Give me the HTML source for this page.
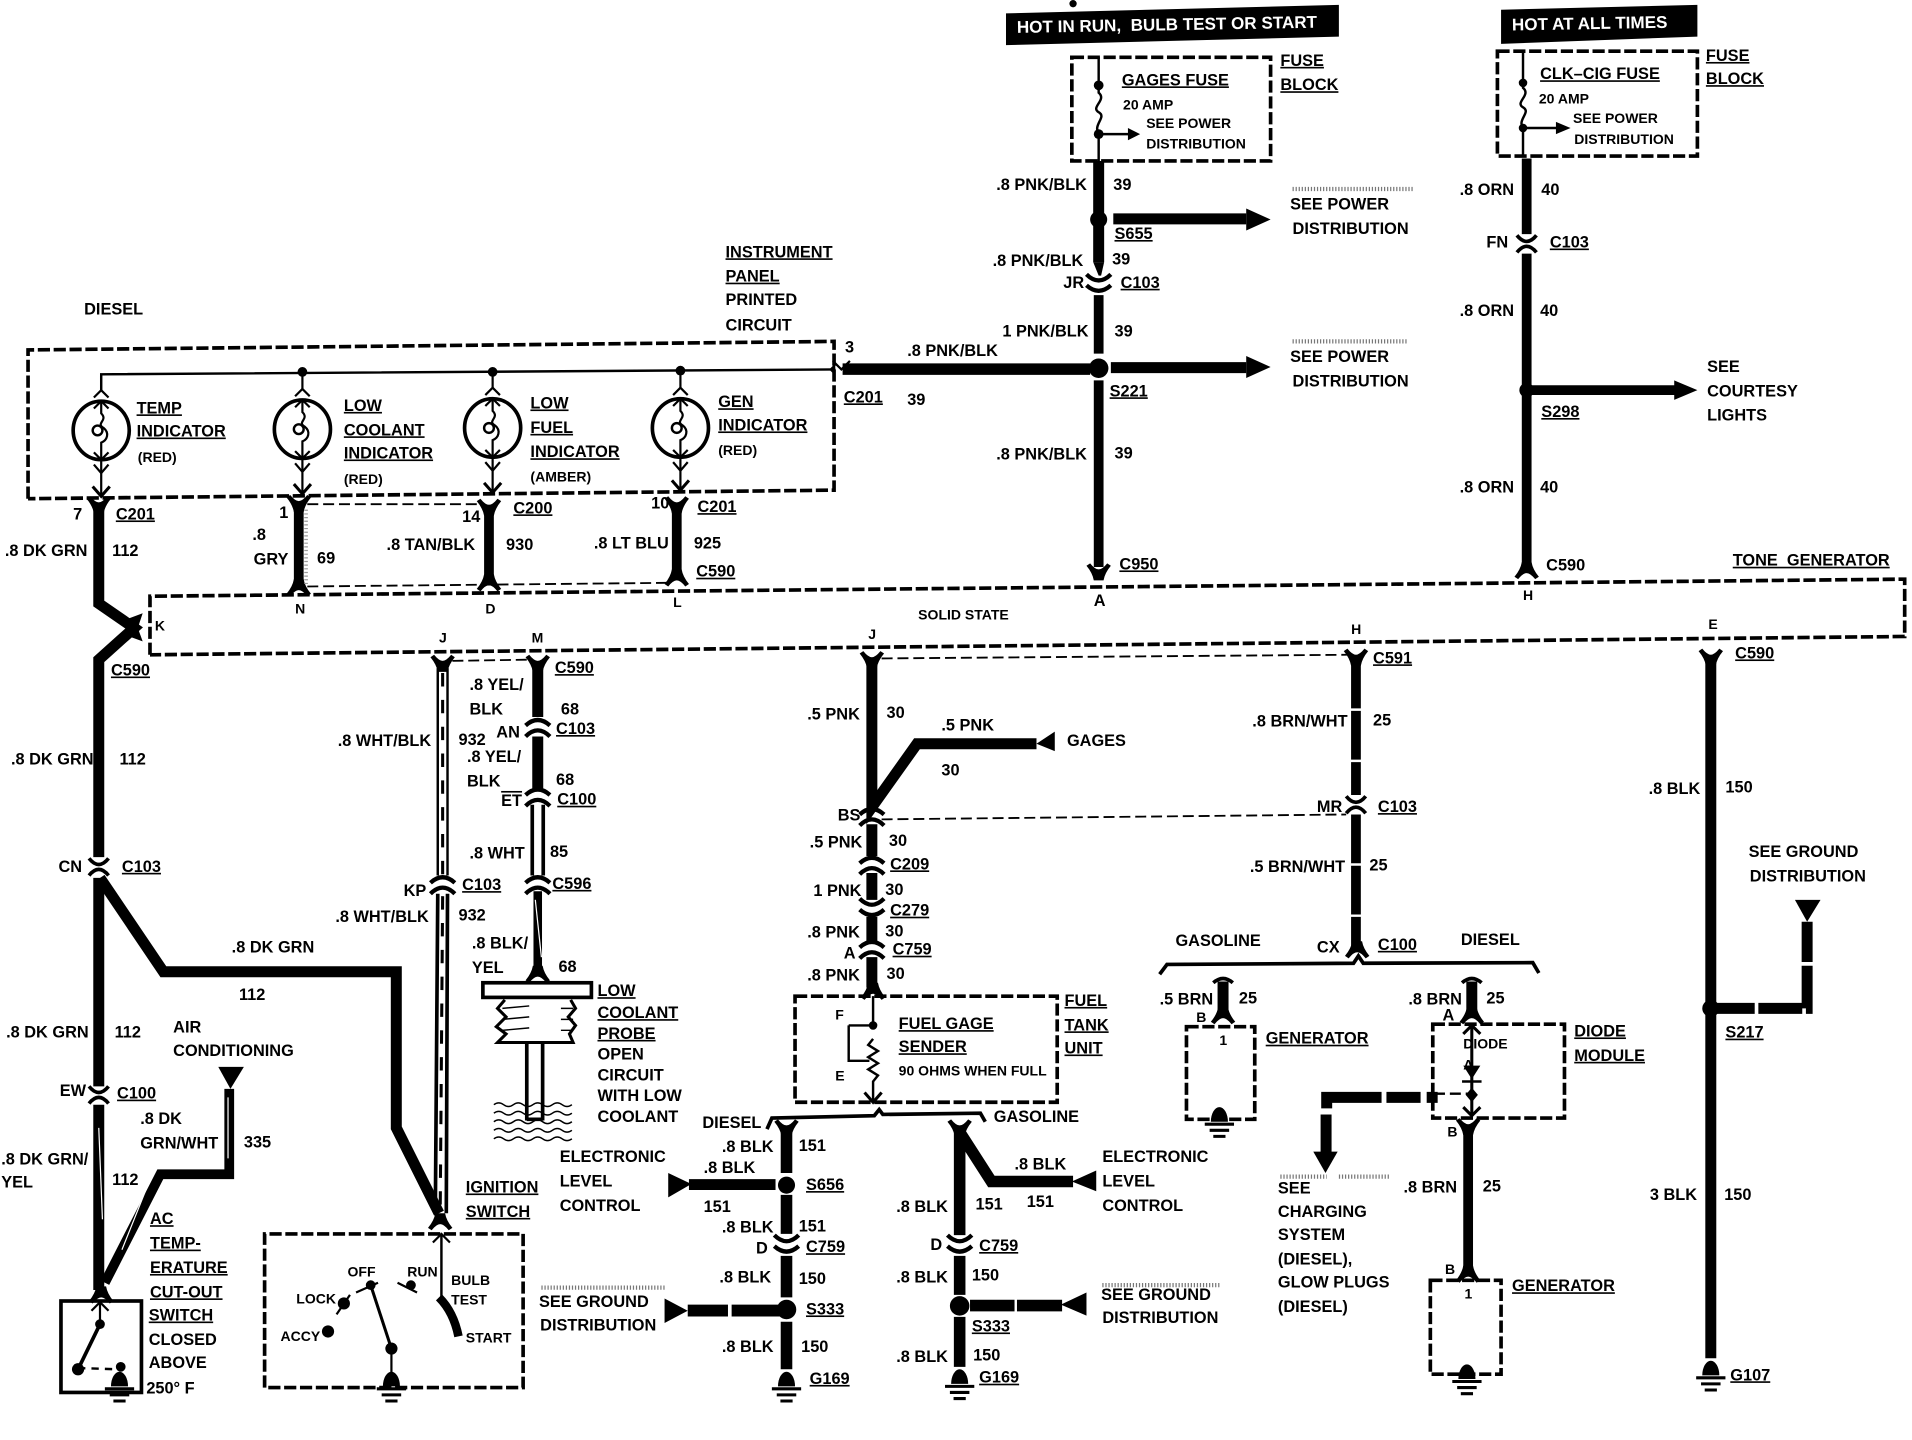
<!DOCTYPE html>
<html><head><meta charset="utf-8"><title>Wiring diagram</title>
<style>
html,body{margin:0;padding:0;background:#fff;width:1912px;height:1440px;overflow:hidden}
svg{display:block}
text{font-family:"Liberation Sans",sans-serif;font-size:13.4px;font-weight:bold;fill:#000}
.u{text-decoration:underline}
.s{font-size:11.5px}
.w{fill:none;stroke:#000;stroke-width:9;stroke-linejoin:miter}
.m{fill:none;stroke:#000;stroke-width:8}
.l{fill:none;stroke:#000;stroke-width:1.8}
.d{fill:none;stroke:#000;stroke-width:3;stroke-dasharray:10 3}
.dt{fill:none;stroke:#000;stroke-width:1.5;stroke-dasharray:9 4}
.k{fill:none;stroke:#000;stroke-width:3}
.g{fill:none;stroke:#999;stroke-width:1.5;stroke-dasharray:1 2}
.st{fill:none;stroke:#777;stroke-width:3.5;stroke-dasharray:1 1.5}
.sl{fill:none;stroke:#fff;stroke-width:1}
</style></head><body>
<svg width="1912" height="1440" viewBox="0 0 1568 1181" preserveAspectRatio="none" xmlns="http://www.w3.org/2000/svg">
<defs>
<path id="y" d="M-10,-5L-7,-7Q-3,-2 0,-2Q3,-2 7,-7L10,-5Q5,1 4,7H-4Q-5,1 -10,-5Z"/>
<path id="n" d="M-10,5L-7,7Q-3,2 0,2Q3,2 7,7L10,5Q5,-1 4,-7H-4Q-5,-1 -10,5Z"/>
<g id="c"><path class="k" d="M-8,-7Q0,3 8,-7M-8,7Q0,-3 8,7"/></g>
<g id="ca"><path class="k" style="stroke-width:3.5" d="M-10,-1Q0,-10 10,-1M-10,8Q0,-2 10,8"/></g>
<g id="cb"><path class="k" style="stroke-width:3.5" d="M-10,-8Q0,2 10,-8M-10,1Q0,10 10,1"/></g>
<g id="gnd"><path d="M-7,12A7,12 0 0 1 7,12Z"/><path class="k" style="stroke-width:2.5" d="M-12,14H12M-8,19H8M-5,24H5"/></g>
<g id="a"><path class="l" d="M-7,7L0,0L7,7"/></g>
<g id="b"><path class="l" d="M-7,-7L0,0L7,-7"/></g>
<g id="lamp"><ellipse cx="0" cy="0" rx="23" ry="24" fill="none" stroke="#000" stroke-width="3"/><path class="l" d="M0,-24V-14C6,-8 -5,-6 2,-2C7,2 5,8 0,10V24"/><circle cx="-3" cy="0" r="4" fill="none" stroke="#000" stroke-width="2"/><path class="l" d="M-6,-18L0,-24L6,-18M-6,18L0,24L6,18M-6,-27L0,-33L6,-27M-6,28L0,35L6,28"/></g>
</defs>
<rect width="1568" height="1181" fill="#fff"/>
<circle cx="880" cy="3" r="3"/>

<!-- header boxes -->
<path d="M825,11L1098,4V30L825,37Z"/>
<text x="834" y="27" style="fill:#fff;font-size:14px" transform="rotate(-1 834 27)">HOT IN RUN,&#160;&#160;BULB TEST OR START</text>
<path d="M1231,8L1392,4V30L1231,36Z"/>
<text x="1240" y="25" style="fill:#fff;font-size:14px" transform="rotate(-1 1240 25)">HOT AT ALL TIMES</text>

<!-- gages fuse -->
<rect class="d" x="879" y="47" width="163" height="85"/>
<path class="l" style="stroke-width:2" d="M901,47V76C908,82 894,88 901,92C908,96 896,102 901,110V132M901,110H926"/>
<path d="M935,110L925,105V115Z"/><circle cx="901" cy="70" r="4"/><circle cx="901" cy="110" r="4"/>
<text x="920" y="70" class="u">GAGES FUSE</text><text x="921" y="90" class="s">20 AMP</text>
<text x="940" y="105" class="s">SEE POWER</text><text x="940" y="122" class="s">DISTRIBUTION</text>
<text x="1050" y="54" class="u">FUSE</text><text x="1050" y="74" class="u">BLOCK</text>
<path class="w" d="M901,132V215"/><path d="M896.5,215H905.5L903,226H901Z"/>
<path class="w" style="stroke-width:8" d="M901,242V290M901,312V465"/>
<use href="#cb" x="901" y="233"/><use href="#y" x="901" y="469" transform="translate(0,0)"/>
<circle cx="901" cy="180" r="7"/><circle cx="901" cy="302" r="8"/>
<path d="M913,175H1022V184H913ZM911,297H1022V306H911ZM691,298H894V307.5H691Z"/>
<path d="M1042,180L1022,171V189ZM1042,301L1022,292V310Z"/>
<use href="#b" x="690" y="303"/>
<text x="817" y="156">.8 PNK/BLK</text><text x="913" y="156">39</text>
<text x="914" y="196" class="u">S655</text>
<path class="st" d="M1060,155H1160M1060,280H1155"/>
<text x="1058" y="172">SEE POWER</text><text x="1060" y="192">DISTRIBUTION</text>
<text x="814" y="218">.8 PNK/BLK</text><text x="912" y="217">39</text>
<text x="872" y="236">JR</text><text x="919" y="236" class="u">C103</text>
<text x="822" y="276">1 PNK/BLK</text><text x="914" y="276">39</text>
<text x="1058" y="297">SEE POWER</text><text x="1060" y="317">DISTRIBUTION</text>
<text x="910" y="325" class="u">S221</text>
<text x="817" y="377">.8 PNK/BLK</text><text x="914" y="376">39</text>
<text x="918" y="467" class="u">C950</text><text x="897" y="497">A</text>
<text x="693" y="289">3</text><text x="744" y="292">.8 PNK/BLK</text>
<text x="692" y="330" class="u">C201</text><text x="744" y="332">39</text>

<!-- clk fuse -->
<rect class="d" x="1228" y="42" width="164" height="86"/>
<path class="l" style="stroke-width:2" d="M1249,42V72C1256,78 1242,84 1249,88C1256,92 1244,98 1249,105V128M1249,105H1278"/>
<path d="M1288,105L1276,100V110Z"/><circle cx="1249" cy="68" r="3.5"/><circle cx="1249" cy="105" r="3.5"/>
<text x="1263" y="65" class="u">CLK–CIG FUSE</text><text x="1262" y="85" class="s">20 AMP</text>
<text x="1290" y="101" class="s">SEE POWER</text><text x="1291" y="118" class="s">DISTRIBUTION</text>
<text x="1399" y="50" class="u">FUSE</text><text x="1399" y="69" class="u">BLOCK</text>
<path class="m" d="M1252,130V192M1252,208V465"/>
<use href="#c" x="1252" y="200"/><use href="#n" x="1252" y="468"/>
<circle cx="1252" cy="320" r="6"/>
<path d="M1252,316H1375V324H1252Z"/><path d="M1392,320L1373,312V328Z"/>
<text x="1197" y="160">.8 ORN</text><text x="1264" y="160">40</text>
<text x="1219" y="203">FN</text><text x="1271" y="203" class="u">C103</text>
<text x="1197" y="259">.8 ORN</text><text x="1263" y="259">40</text>
<text x="1400" y="305">SEE</text><text x="1400" y="325">COURTESY</text><text x="1400" y="345">LIGHTS</text>
<text x="1264" y="342" class="u">S298</text>
<text x="1197" y="404">.8 ORN</text><text x="1263" y="404">40</text>
<text x="1268" y="468">C590</text><text x="1249" y="492" class="s">H</text>

<!-- instrument panel -->
<path class="d" d="M23,409V287L684,280V402L23,409"/>
<text x="595" y="211" class="u">INSTRUMENT</text><text x="595" y="231" class="u">PANEL</text>
<text x="595" y="250">PRINTED</text><text x="595" y="271">CIRCUIT</text>
<text x="69" y="258">DIESEL</text>
<path class="l" style="stroke-width:2" d="M83,320V307L685,303"/>
<path d="M685,298L680,303L685,308Z"/>
<circle cx="248" cy="305" r="4"/><circle cx="404" cy="305" r="4"/><circle cx="558" cy="304" r="4"/>
<use href="#lamp" x="83" y="353"/><use href="#lamp" x="248" y="352"/><use href="#lamp" x="404" y="351"/><use href="#lamp" x="558" y="351"/>
<path class="l" d="M83,377V407M248,376V405M404,375V404M558,375V402M248,305V319M404,305V318M558,304V318"/>
<path class="l" style="stroke-width:2.5" d="M76,399L83,407L90,399M241,397L248,405L255,397M397,396L404,404L411,396M551,394L558,402L565,394"/>
<text x="112" y="339" class="u">TEMP</text><text x="112" y="358" class="u">INDICATOR</text><text x="113" y="379" class="s">(RED)</text>
<text x="282" y="337" class="u">LOW</text><text x="282" y="357" class="u">COOLANT</text><text x="282" y="376" class="u">INDICATOR</text><text x="282" y="397" class="s">(RED)</text>
<text x="435" y="335" class="u">LOW</text><text x="435" y="355" class="u">FUEL</text><text x="435" y="375" class="u">INDICATOR</text><text x="435" y="395" class="s">(AMBER)</text>
<text x="589" y="334" class="u">GEN</text><text x="589" y="353" class="u">INDICATOR</text><text x="589" y="373" class="s">(RED)</text>

<!-- tone generator -->
<path class="d" d="M123,537V489L1562,475V522L123,537"/>
<text x="1421" y="464" class="u">TONE&#160;&#160;GENERATOR</text>
<text x="753" y="508" class="s">SOLID STATE</text>
<text x="242" y="503" class="s">N</text><text x="398" y="503" class="s">D</text><text x="552" y="498" class="s">L</text><text x="127" y="517" class="s">K</text><text x="360" y="527" class="s">J</text><text x="436" y="527" class="s">M</text><text x="712" y="524" class="s">J</text><text x="1108" y="520" class="s">H</text><text x="1401" y="516" class="s">E</text>

<!-- drops between panel and tone -->
<path class="m" d="M245,418V478M401,420V473M555,418V468"/>
<use href="#n" x="245" y="482"/><use href="#y" x="245" y="413"/><use href="#y" x="401" y="416"/><use href="#n" x="401" y="478"/><use href="#y" x="555" y="414"/><use href="#n" x="555" y="474"/>
<path class="dt" d="M252,413.5H394M252,481L548,478"/>
<path class="g" style="stroke-width:3" d="M251,418V480"/>
<text x="229" y="425">1</text><text x="207" y="443">.8</text><text x="208" y="463">GRY</text><text x="260" y="462">69</text>
<text x="379" y="428">14</text><text x="421" y="421" class="u">C200</text><text x="317" y="451">.8 TAN/BLK</text><text x="415" y="451">930</text>
<text x="534" y="417">10</text><text x="572" y="420" class="u">C201</text><text x="487" y="450">.8 LT BLU</text><text x="569" y="450">925</text><text x="571" y="473" class="u">C590</text>

<!-- left wire -->
<use href="#y" x="81" y="414"/>
<path class="w" d="M81,417V495L110,515L81,541V703M81,720V891M81,906V1058"/>
<path d="M106,507L117,503L113,515L117,526L106,522Z"/>
<use href="#c" x="81" y="711"/><use href="#c" x="81" y="898"/><use href="#n" x="83" y="1062"/>
<path class="w" d="M82,720L134,797H325V925L360,995"/>
<path class="m" d="M86,1052L131.500,963H188V893"/><path d="M189,893L179,875H200Z"/>
<path class="sl" d="M81,925L84,1000M120,975L100,1025M187,900V950"/>
<text x="60" y="426">7</text><text x="95" y="426" class="u">C201</text><text x="4" y="456">.8 DK GRN</text><text x="92" y="456">112</text>
<text x="91" y="554" class="u">C590</text><text x="9" y="627">.8 DK GRN</text><text x="98" y="627">112</text>
<text x="48" y="715">CN</text><text x="100" y="715" class="u">C103</text>
<text x="190" y="781">.8 DK GRN</text><text x="196" y="820">112</text>
<text x="5" y="851">.8 DK GRN</text><text x="94" y="851">112</text>
<text x="49" y="899">EW</text><text x="96" y="901" class="u">C100</text>
<text x="142" y="847">AIR</text><text x="142" y="866">CONDITIONING</text>
<text x="115" y="922">.8 DK</text><text x="115" y="942">GRN/WHT</text><text x="200" y="941">335</text>
<text x="1" y="955">.8 DK GRN/</text><text x="1" y="974">YEL</text><text x="92" y="972">112</text>
<text x="123" y="1004" class="u">AC</text><text x="123" y="1024" class="u">TEMP-</text><text x="123" y="1044" class="u">ERATURE</text><text x="123" y="1064" class="u">CUT-OUT</text><text x="122" y="1083" class="u">SWITCH</text>
<text x="122" y="1103">CLOSED</text><text x="122" y="1122">ABOVE</text><text x="120" y="1143">250° F</text>

<!-- AC switch -->
<rect x="50" y="1067" width="66" height="75" fill="none" stroke="#000" stroke-width="3"/>
<use href="#a" x="82" y="1068"/><path class="l" d="M82,1068V1083"/>
<circle cx="82" cy="1086" r="4"/><circle cx="64" cy="1123" r="5"/><circle cx="99" cy="1121" r="4"/>
<path class="k" d="M82,1086L64,1123"/><path class="l" style="stroke-width:2;stroke-dasharray:6 5" d="M64,1122L97,1123"/>
<use href="#gnd" x="98" y="1125"/>

<!-- J wire -->
<path class="l" style="stroke-width:2" d="M359,548V718M367,548V718"/>
<path class="l" style="stroke-width:3" d="M359,733L357,995M367,733L366,995"/>
<path class="l" style="stroke-width:2.500;stroke-dasharray:11 11" d="M363,552V718M363,735L361,995"/>
<use href="#y" x="363" y="544"/><use href="#ca" x="363" y="725"/><use href="#n" x="361" y="1002"/>
<path class="dt" d="M371,542L436,541"/>
<text x="277" y="612">.8 WHT/BLK</text><text x="376" y="611">932</text>
<text x="331" y="735">KP</text><text x="379" y="730" class="u">C103</text>
<text x="275" y="756">.8 WHT/BLK</text><text x="376" y="755">932</text>

<!-- ignition -->
<path class="d" d="M217,1138V1012H429V1138H217"/>
<use href="#a" x="362" y="1012"/><path class="l" d="M362,1012V1066" style="stroke-width:2"/>
<path class="m" style="stroke-width:7" d="M360,1064Q372,1076 376,1096"/>
<circle cx="304" cy="1054" r="4"/><circle cx="337" cy="1054" r="4"/><circle cx="282" cy="1069" r="5"/><circle cx="269" cy="1092" r="5"/><circle cx="321" cy="1106" r="5"/>
<path class="k" d="M304,1054L321,1106" style="stroke-width:2.5"/><path class="l" d="M321,1106V1130"/>
<path class="l" d="M292,1060L310,1052M326,1052L342,1060M276,1078L287,1062"/>
<use href="#gnd" x="321" y="1125"/>
<text x="285" y="1047" class="s">OFF</text><text x="334" y="1047" class="s">RUN</text><text x="243" y="1069" class="s">LOCK</text><text x="230" y="1100" class="s">ACCY</text>
<text x="370" y="1054" class="s">BULB</text><text x="370" y="1070" class="s">TEST</text><text x="382" y="1101" class="s">START</text>
<text x="382" y="978" class="u">IGNITION</text><text x="382" y="998" class="u">SWITCH</text>

<!-- M wire -->
<path class="w" d="M441,546V588M441,604V648"/>
<path class="m" style="stroke-width:7" d="M441,731V797"/>
<path class="sl" d="M439,738L444,785"/>
<path class="l" style="stroke-width:3" d="M436.500,660V718M445.500,660V718"/>
<use href="#y" x="441" y="544"/><use href="#ca" x="441" y="596"/><use href="#ca" x="441" y="653"/><use href="#ca" x="441" y="725"/><use href="#n" x="441" y="799"/>
<text x="385" y="566">.8 YEL/</text><text x="385" y="586">BLK</text><text x="460" y="586">68</text>
<text x="455" y="552" class="u">C590</text><text x="407" y="605">AN</text><text x="456" y="602" class="u">C103</text>
<text x="383" y="625">.8 YEL/</text><text x="383" y="645">BLK</text><text x="456" y="644">68</text>
<text x="411" y="661" style="text-decoration:overline">ET</text><text x="457" y="660" class="u">C100</text>
<text x="385" y="704">.8 WHT</text><text x="451" y="703">85</text><text x="453" y="729" class="u">C596</text>
<text x="387" y="778">.8 BLK/</text><text x="387" y="798">YEL</text><text x="458" y="797">68</text>

<!-- probe -->
<rect x="396" y="806" width="89" height="12" fill="none" stroke="#000" stroke-width="3"/>
<path class="k" style="stroke-width:2.5" d="M414,820L408,827L415,834L407,842L415,848L408,855H470L467,848L472,841L466,834L472,827L468,820"/>
<path class="l" style="stroke-width:1.2" d="M412,827L434,825M412,836L434,834M412,845L434,843M460,827H470M460,836H470M460,845H470"/>
<path class="k" d="M432,855V919M445,855V919M432,918H445"/>
<path class="l" style="stroke-width:1.2" d="M405,906q4,-3 8,0t8,0t8,0t8,0t8,0t8,0t8,0t8,0M405,913q4,-3 8,0t8,0t8,0t8,0t8,0t8,0t8,0t8,0M405,920q4,-3 8,0t8,0t8,0t8,0t8,0t8,0t8,0t8,0M405,927q4,-3 8,0t8,0t8,0t8,0t8,0t8,0t8,0t8,0M405,934q4,-3 8,0t8,0t8,0t8,0t8,0t8,0t8,0t8,0"/>
<text x="490" y="817" class="u">LOW</text><text x="490" y="835" class="u">COOLANT</text><text x="490" y="852" class="u">PROBE</text>
<text x="490" y="869">OPEN</text><text x="490" y="886">CIRCUIT</text><text x="490" y="903">WITH LOW</text><text x="490" y="920">COOLANT</text>

<!-- center J wire -->
<path class="w" d="M715,543V662L752,610H850M715,676V702M715,716V738M715,752V772M715,785V810"/>
<path d="M850,610L865,600V616Z"/>
<use href="#y" x="715" y="541"/><use href="#ca" x="715" y="669"/><use href="#ca" x="715" y="709"/><use href="#cb" x="715" y="745"/><use href="#ca" x="715" y="778"/><use href="#n" x="716" y="813"/>
<path class="dt" d="M723,540L1105,537M723,672L1104,668"/>
<text x="662" y="590">.5 PNK</text><text x="727" y="589">30</text><text x="772" y="599">.5 PNK</text><text x="772" y="636">30</text><text x="875" y="612">GAGES</text>
<text x="687" y="673">BS</text><text x="664" y="695">.5 PNK</text><text x="729" y="694">30</text><text x="730" y="713" class="u">C209</text>
<text x="667" y="735">1 PNK</text><text x="726" y="734">30</text><text x="730" y="751" class="u">C279</text>
<text x="662" y="769">.8 PNK</text><text x="726" y="768">30</text><text x="692" y="786">A</text><text x="732" y="783" class="u">C759</text>
<text x="662" y="804">.8 PNK</text><text x="727" y="803">30</text>

<!-- fuel tank -->
<rect class="d" x="652" y="817" width="215" height="87"/>
<path class="l" style="stroke-width:2" d="M716,817V841M696,841H716M696,841V870H713M716,852L712,857L720,862L712,867L720,872L712,877L720,882L716,887V903"/>
<circle cx="716" cy="841" r="3.500"/>
<path class="l" style="stroke-width:2.500" d="M709,896L716,904L723,896"/>
<text x="685" y="836" class="s">F</text><text x="685" y="886" class="s">E</text>
<text x="737" y="844" class="u">FUEL GAGE</text><text x="737" y="863" class="u">SENDER</text><text x="737" y="882" class="s">90 OHMS WHEN FULL</text>
<text x="873" y="825" class="u">FUEL</text><text x="873" y="845" class="u">TANK</text><text x="873" y="864" class="u">UNIT</text>
<path class="k" d="M629,926L633,917L717,915L721,910L724,914L804,913L808,920"/>
<text x="576" y="925">DIESEL</text><text x="815" y="920">GASOLINE</text>

<!-- left lower -->
<path class="w" style="stroke-width:9.500" d="M645,928V962M645,980V1012M645,1030V1064M645,1084V1123"/>
<use href="#y" x="645" y="925"/><use href="#cb" x="645" y="1021"/>
<circle cx="645" cy="972" r="7"/><circle cx="645" cy="1074" r="8"/>
<path d="M565,967H636V976H565ZM564,1070H597V1079.700H564ZM600,1070H640V1079.700H600Z"/><path d="M548,962L567,971L548,982ZM545,1065L564,1075L545,1085Z"/>
<use href="#gnd" x="645" y="1125"/>
<text x="592" y="945">.8 BLK</text><text x="655" y="944">151</text><text x="577" y="962">.8 BLK</text><text x="577" y="994">151</text><text x="661" y="976" class="u">S656</text>
<path class="st" d="M444,1056H545M904,1054H1000M1050,965H1088M1098,965H1140"/>
<text x="459" y="953">ELECTRONIC</text><text x="459" y="973">LEVEL</text><text x="459" y="993">CONTROL</text>
<text x="592" y="1011">.8 BLK</text><text x="655" y="1010">151</text><text x="620" y="1028">D</text><text x="661" y="1027" class="u">C759</text>
<text x="590" y="1052">.8 BLK</text><text x="655" y="1053">150</text><text x="661" y="1078" class="u">S333</text>
<text x="442" y="1072">SEE GROUND</text><text x="443" y="1091">DISTRIBUTION</text>
<text x="592" y="1109">.8 BLK</text><text x="657" y="1109">150</text><text x="664" y="1135" class="u">G169</text>

<!-- right lower -->
<path class="w" style="stroke-width:9.500" d="M787,926V1013M787,1030V1062M787,1080V1121"/>
<path class="w" style="stroke-width:9.500" d="M788,930L813,969H880"/>
<use href="#y" x="787" y="925"/><use href="#cb" x="787" y="1021"/><circle cx="787" cy="1071" r="8"/>
<path d="M795.500,1066H832V1075.500H795.500ZM834,1066H871V1075.500H834Z"/><path d="M891,1060L870,1070L891,1079ZM899,960L879,969L899,977Z"/>
<use href="#gnd" x="787" y="1123"/>
<text x="832" y="959">.8 BLK</text><text x="800" y="992">151</text><text x="842" y="990">151</text>
<text x="735" y="994">.8 BLK</text><text x="904" y="953">ELECTRONIC</text><text x="904" y="973">LEVEL</text><text x="904" y="993">CONTROL</text>
<text x="763" y="1025">D</text><text x="803" y="1026" class="u">C759</text>
<text x="735" y="1052">.8 BLK</text><text x="797" y="1050">150</text><text x="797" y="1092" class="u">S333</text>
<text x="903" y="1066">SEE GROUND</text><text x="904" y="1085">DISTRIBUTION</text>
<text x="735" y="1117">.8 BLK</text><text x="798" y="1116">150</text><text x="803" y="1134" class="u">G169</text>

<!-- H wire -->
<path class="m" style="stroke-dasharray:40 2" d="M1112,541V652M1112,668V776"/>
<use href="#y" x="1112" y="539"/><use href="#c" x="1112" y="660"/><use href="#n" x="1113" y="779"/>
<path class="k" d="M951,799L957,791L1110,790L1114,784L1118,790L1257,789.500L1262,798"/>
<text x="1126" y="544" class="u">C591</text><text x="1027" y="596">.8 BRN/WHT</text><text x="1126" y="595">25</text>
<text x="1080" y="666">MR</text><text x="1130" y="666" class="u">C103</text>
<text x="1025" y="715">.5 BRN/WHT</text><text x="1123" y="714">25</text>
<text x="1080" y="781">CX</text><text x="1130" y="779" class="u">C100</text>
<text x="964" y="776">GASOLINE</text><text x="1198" y="775">DIESEL</text>

<!-- generator left -->
<path class="m" style="stroke-width:9" d="M1003,805V832"/><path class="k" d="M995,806Q1003,799 1011,806"/><use href="#n" x="1003" y="833"/>
<rect class="d" x="973" y="842" width="56" height="76"/>
<use href="#gnd" x="1000" y="908"/>
<text x="951" y="824">.5 BRN</text><text x="1016" y="823">25</text><text x="981" y="838" class="s">B</text>
<text x="1000" y="857" class="s">1</text><text x="1038" y="856" class="u">GENERATOR</text>

<!-- diode module -->
<path class="m" style="stroke-width:9" d="M1207,805V832"/><path class="k" d="M1199,806Q1207,799 1215,806"/><use href="#n" x="1207" y="833"/>
<rect class="d" x="1175" y="840" width="108" height="77"/>
<path class="l" style="stroke-width:2.500" d="M1207,841V915"/><path class="l" style="stroke-width:2.500" d="M1200,848L1207,841L1214,848M1200,908L1207,915L1214,908"/>
<path d="M1200,874H1214L1207,885ZM1199,886H1215V888H1199Z"/>
<path d="M1207,892L1212,898L1207,904L1202,898Z"/>
<path class="dt" style="stroke-width:2" d="M1176,897H1204"/>
<path class="m" style="stroke-width:9" d="M1179,900H1170M1165,900H1137M1133,900H1088V909"/>
<path class="m" style="stroke-width:9" d="M1087.500,914V945"/><path d="M1077,944.500H1097L1087,962Z"/>
<path class="m" d="M1204,925V1042"/><use href="#y" x="1204" y="924"/><use href="#n" x="1204" y="1045"/>
<text x="1155" y="824">.8 BRN</text><text x="1219" y="823">25</text><text x="1183" y="837">A</text>
<text x="1200" y="860" class="s">DIODE</text><text x="1200" y="877" class="s">A</text>
<text x="1291" y="850" class="u">DIODE</text><text x="1291" y="870" class="u">MODULE</text>
<text x="1187" y="932" class="s">B</text><text x="1151" y="978">.8 BRN</text><text x="1216" y="977">25</text>
<text x="1048" y="979">SEE</text><text x="1048" y="998">CHARGING</text><text x="1048" y="1017">SYSTEM</text><text x="1048" y="1037">(DIESEL),</text><text x="1048" y="1056">GLOW PLUGS</text><text x="1048" y="1076">(DIESEL)</text>
<rect class="d" x="1173" y="1050" width="58" height="77"/>
<use href="#gnd" x="1203" y="1119"/>
<text x="1185" y="1045" class="s">B</text><text x="1201" y="1065" class="s">1</text><text x="1240" y="1059" class="u">GENERATOR</text>

<!-- E wire -->
<path class="w" d="M1403,541V1114"/><use href="#y" x="1403" y="539"/>
<circle cx="1403" cy="827" r="7"/>
<path class="w" style="stroke-dasharray:36 3" d="M1403,827H1482V756"/><path d="M1472,738H1493L1482,756Z"/>
<use href="#gnd" x="1403" y="1116"/>
<text x="1423" y="540" class="u">C590</text><text x="1352" y="651">.8 BLK</text><text x="1415" y="650">150</text>
<text x="1434" y="703">SEE GROUND</text><text x="1435" y="723">DISTRIBUTION</text>
<text x="1415" y="851" class="u">S217</text><text x="1353" y="984">3 BLK</text><text x="1414" y="984">150</text><text x="1419" y="1132" class="u">G107</text>
</svg>
</body></html>
